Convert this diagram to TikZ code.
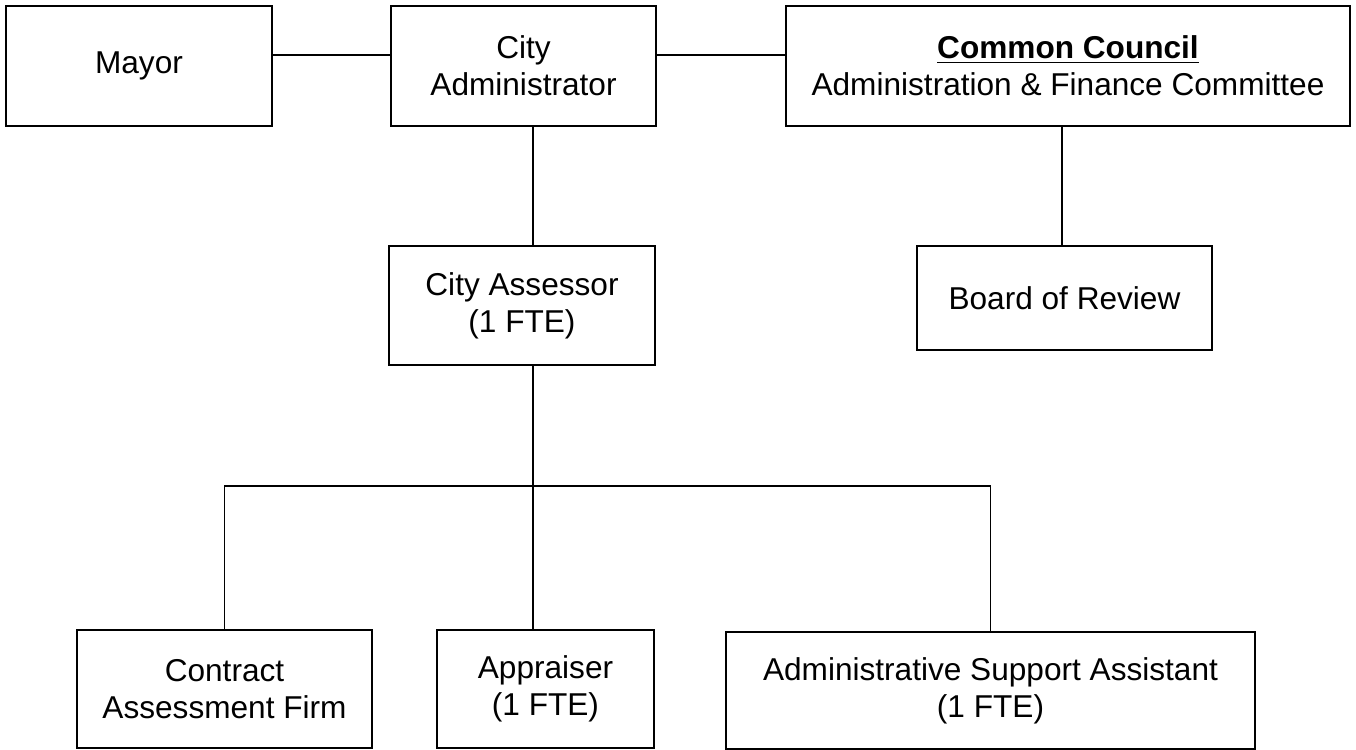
\documentclass[tikz,border=0pt]{standalone}
\usepackage{fontspec}
\setmainfont{Liberation Sans}
\begin{document}
\begin{tikzpicture}[x=0.5pt,y=-0.5pt,
  box/.style={draw=black, line width=1pt, rectangle, inner sep=0pt, align=center,
    font=\fontsize{15.8}{18.5}\selectfont, minimum height=60pt},
  conn/.style={draw=black, line width=0.9pt}]
\useasboundingbox[fill=white] (0,0) rectangle (1356,750);
% top row
\node[box, minimum width=133pt] (Mayor) at (139,66) {Mayor};
\node[box, minimum width=132.5pt] (CA) at (523.5,66) {City\\Administrator};
\node[box, minimum width=282pt] (CC) at (1068,66) {\underline{\textbf{Common Council}}\\Administration \& Finance Committee};
% middle row
\node[box, minimum width=133pt, minimum height=59.5pt] (Assessor) at (522,305.5) {City Assessor\\(1 FTE)};
\node[box, minimum width=147.5pt, minimum height=52pt] (BoR) at (1064.5,298) {Board of Review};
% bottom row
\node[box, minimum width=147.5pt, minimum height=59pt] (Contract) at (224.5,689) {Contract\\Assessment Firm};
\node[box, minimum width=108.5pt, minimum height=59pt] (Appraiser) at (545.5,689) {Appraiser\\(1 FTE)};
\node[box, minimum width=264.5pt, minimum height=58.5pt] (ASA) at (990.5,690.5) {Administrative Support Assistant\\(1 FTE)};
\coordinate (bus) at (533,486);
% connectors
\draw[conn] ([yshift=5.5pt]Mayor.east) -- ([yshift=5.5pt]CA.west);
\draw[conn] ([yshift=5.5pt]CA.east) -- ([yshift=5.5pt]CC.west);
\draw[conn] ([xshift=4.75pt]CA.south) -- ([xshift=4.75pt]CA.south |- Assessor.north);
\draw[conn] ([xshift=-3pt]CC.south) -- ([xshift=-3pt]CC.south |- BoR.north);
\draw[conn] ([xshift=5.5pt]Assessor.south) -- (bus) -- (bus |- Appraiser.north);
\draw[conn] (Contract.north) |- (bus) -| (ASA.north);
\end{tikzpicture}
\end{document}
